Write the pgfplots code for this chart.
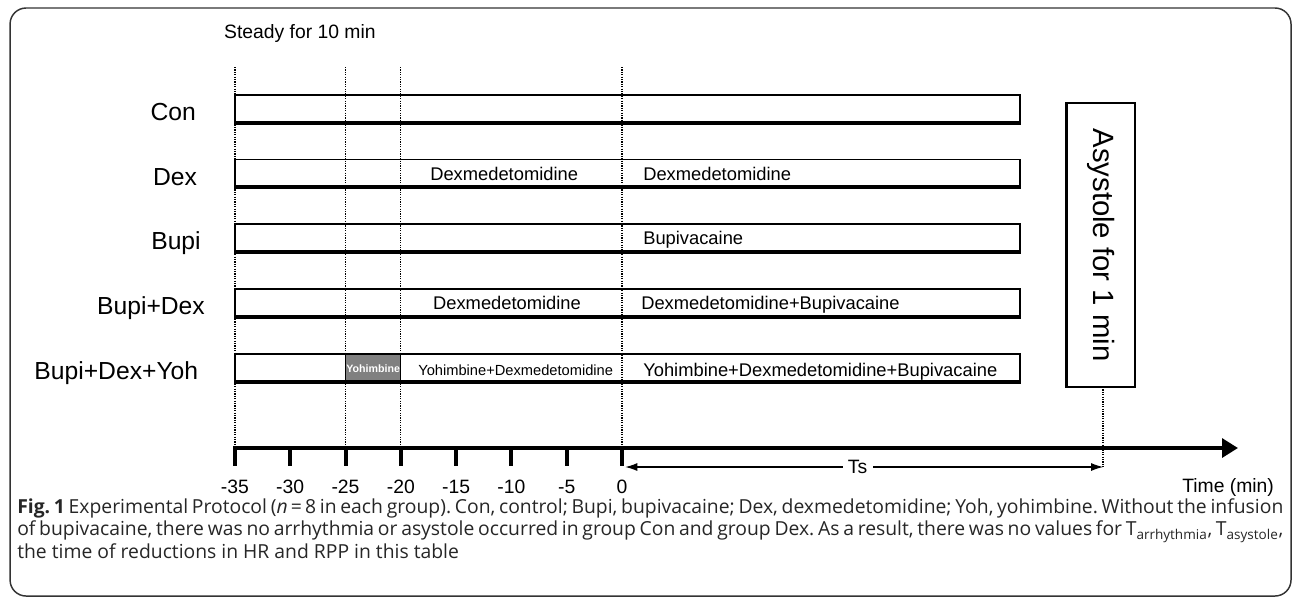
\documentclass[border=0pt]{standalone}
\usepackage{fontspec}
\setmainfont{Liberation Sans}
\newfontfamily\capfont{Open Sans}
\usepackage{pgfplots}
\pgfplotsset{compat=1.18}
\usetikzlibrary{arrows.meta}

\newcommand{\rowfont}{\fontsize{18.5}{20}\selectfont}
\newcommand{\barfont}{\fontsize{13.75}{15}\selectfont}
\newcommand{\tickfont}{\fontsize{14.5}{16}\selectfont}

\begin{document}
\begin{tikzpicture}
\begin{axis}[
  name=ax,
  scale only axis, width=969.75pt, height=447.75pt,
  xmin=-56.24, xmax=60.67, ymin=0, ymax=597, y dir=reverse,
  hide axis, clip=false, no markers,
]
% outer frame
\draw[black!80, line width=1.1pt, rounded corners=12pt] (axis cs:-55.33,8) rectangle (axis cs:60.49,596);

% title
\node[anchor=west, inner sep=0pt, font=\tickfont] at (axis cs:-36.0,33) {Steady for 10 min};

% bars (from -35 to 36 min)
\addplot[draw=black, fill=white, line width=1.1pt] coordinates {(-35,95) (36,95) (36,122) (-35,122)} -- cycle;
\addplot[draw=black, fill=white, line width=1.1pt] coordinates {(-35,159.5) (36,159.5) (36,186.5) (-35,186.5)} -- cycle;
\addplot[draw=black, fill=white, line width=1.1pt] coordinates {(-35,224) (36,224) (36,251) (-35,251)} -- cycle;
\addplot[draw=black, fill=white, line width=1.1pt] coordinates {(-35,289) (36,289) (36,316) (-35,316)} -- cycle;
\addplot[draw=black, fill=white, line width=1.1pt] coordinates {(-35,354) (36,354) (36,381) (-35,381)} -- cycle;
% yohimbine pre-treatment block
\addplot[draw=black, fill=black!50, line width=0.9pt] coordinates {(-25,354) (-20,354) (-20,381) (-25,381)} -- cycle;
% thick bottom edges
\addplot[black, line width=3pt] coordinates {(-35.05,122.5) (36.1,122.5)};
\addplot[black, line width=3pt] coordinates {(-35.05,187) (36.1,187)};
\addplot[black, line width=3pt] coordinates {(-35.05,251.5) (36.1,251.5)};
\addplot[black, line width=3pt] coordinates {(-35.05,316.5) (36.1,316.5)};
\addplot[black, line width=3pt] coordinates {(-35.05,381.5) (36.1,381.5)};

% dotted guide lines
\pgfplotsinvokeforeach{-35,-25,-20,0}{
  \addplot[black, line width=1pt, dash pattern=on 0.9pt off 0.9pt] coordinates {(#1,67) (#1,448)};
}
\addplot[black, line width=1pt, dash pattern=on 0.9pt off 0.9pt] coordinates {(43.5,387) (43.5,467)};

% asystole box
\addplot[draw=black, fill=white, line width=1.9pt] coordinates {(40.2,103) (46.4,103) (46.4,387) (40.2,387)} -- cycle;
\node[rotate=-90, font=\fontsize{22}{24}\selectfont] at (axis cs:43.3,245) {Asystole for 1 min};

% row labels
\node[anchor=base east, inner sep=0pt, font=\rowfont] at (axis cs:-38.5,120.5) {Con};
\node[anchor=base east, inner sep=0pt, font=\rowfont] at (axis cs:-38.4,185) {Dex};
\node[anchor=base east, inner sep=0pt, font=\rowfont] at (axis cs:-38.07,249.5) {Bupi};
\node[anchor=base east, inner sep=0pt, font=\rowfont] at (axis cs:-37.7,314.5) {Bupi+Dex};
\node[anchor=base east, inner sep=0pt, font=\rowfont] at (axis cs:-38.3,379.5) {Bupi+Dex+Yoh};

% bar texts
\node[anchor=base west, inner sep=0pt, font=\barfont] at (axis cs:-17.36,180) {Dexmedetomidine};
\node[anchor=base west, inner sep=0pt, font=\barfont] at (axis cs:1.9,180) {Dexmedetomidine};
\node[anchor=base west, inner sep=0pt, font=\barfont] at (axis cs:1.9,244.5) {Bupivacaine};
\node[anchor=base west, inner sep=0pt, font=\barfont] at (axis cs:-17.1,309) {Dexmedetomidine};
\node[anchor=base west, inner sep=0pt, font=\barfont] at (axis cs:1.72,309) {Dexmedetomidine+Bupivacaine};
\node[anchor=base, inner sep=0pt, text=white, font=\fontsize{8}{9}\selectfont\bfseries] at (axis cs:-22.5,372) {Yohimbine};
\node[anchor=base west, inner sep=0pt, font=\fontsize{11}{12}\selectfont] at (axis cs:-18.44,375.5) {Yohimbine+Dexmedetomidine};
\node[anchor=base west, inner sep=0pt, font=\barfont] at (axis cs:1.9,376.5) {Yohimbine+Dexmedetomidine+Bupivacaine};

% time axis
\addplot[black, line width=3.4pt, -{Triangle[length=12pt,width=14pt]}] coordinates {(-35.15,448) (55.7,448)};
\pgfplotsinvokeforeach{-35,-30,-25,-20,-15,-10,-5,0}{
  \addplot[black, line width=3pt] coordinates {(#1,447) (#1,466)};
  \node[font=\tickfont] at (axis cs:#1,487) {#1};
}
\node[font=\tickfont] at (axis cs:54.8,487) {Time (min)};

% Ts arrow
\addplot[black, line width=0.8pt, {Latex[length=9pt,width=6pt]}-{Latex[length=9pt,width=6pt]}] coordinates {(0.3,467) (43.5,467)};
\node[fill=white, inner sep=4pt, font=\tickfont] at (axis cs:21.3,467) {Ts};

% caption
\node[anchor=north west, inner sep=0pt, text=black!85] at (axis cs:-54.7,498) {\parbox[t]{949.5pt}{\capfont\fontsize{14.5}{16.9}\selectfont\frenchspacing
{\bfseries Fig.\ 1} Experimental Protocol (\textit{n}\,=\,8 in each group). Con, control; Bupi, bupivacaine; Dex, dexmedetomidine; Yoh, yohimbine. Without the infusion\linebreak
of bupivacaine, there was no arrhythmia or asystole occurred in group Con and group Dex. As a result, there was no values for T\textsubscript{arrhythmia}, T\textsubscript{asystole},\linebreak
the time of reductions in HR and RPP in this table}};
\end{axis}
\pgfresetboundingbox
\useasboundingbox (ax.south west) rectangle (ax.north east);
\end{tikzpicture}
\end{document}
